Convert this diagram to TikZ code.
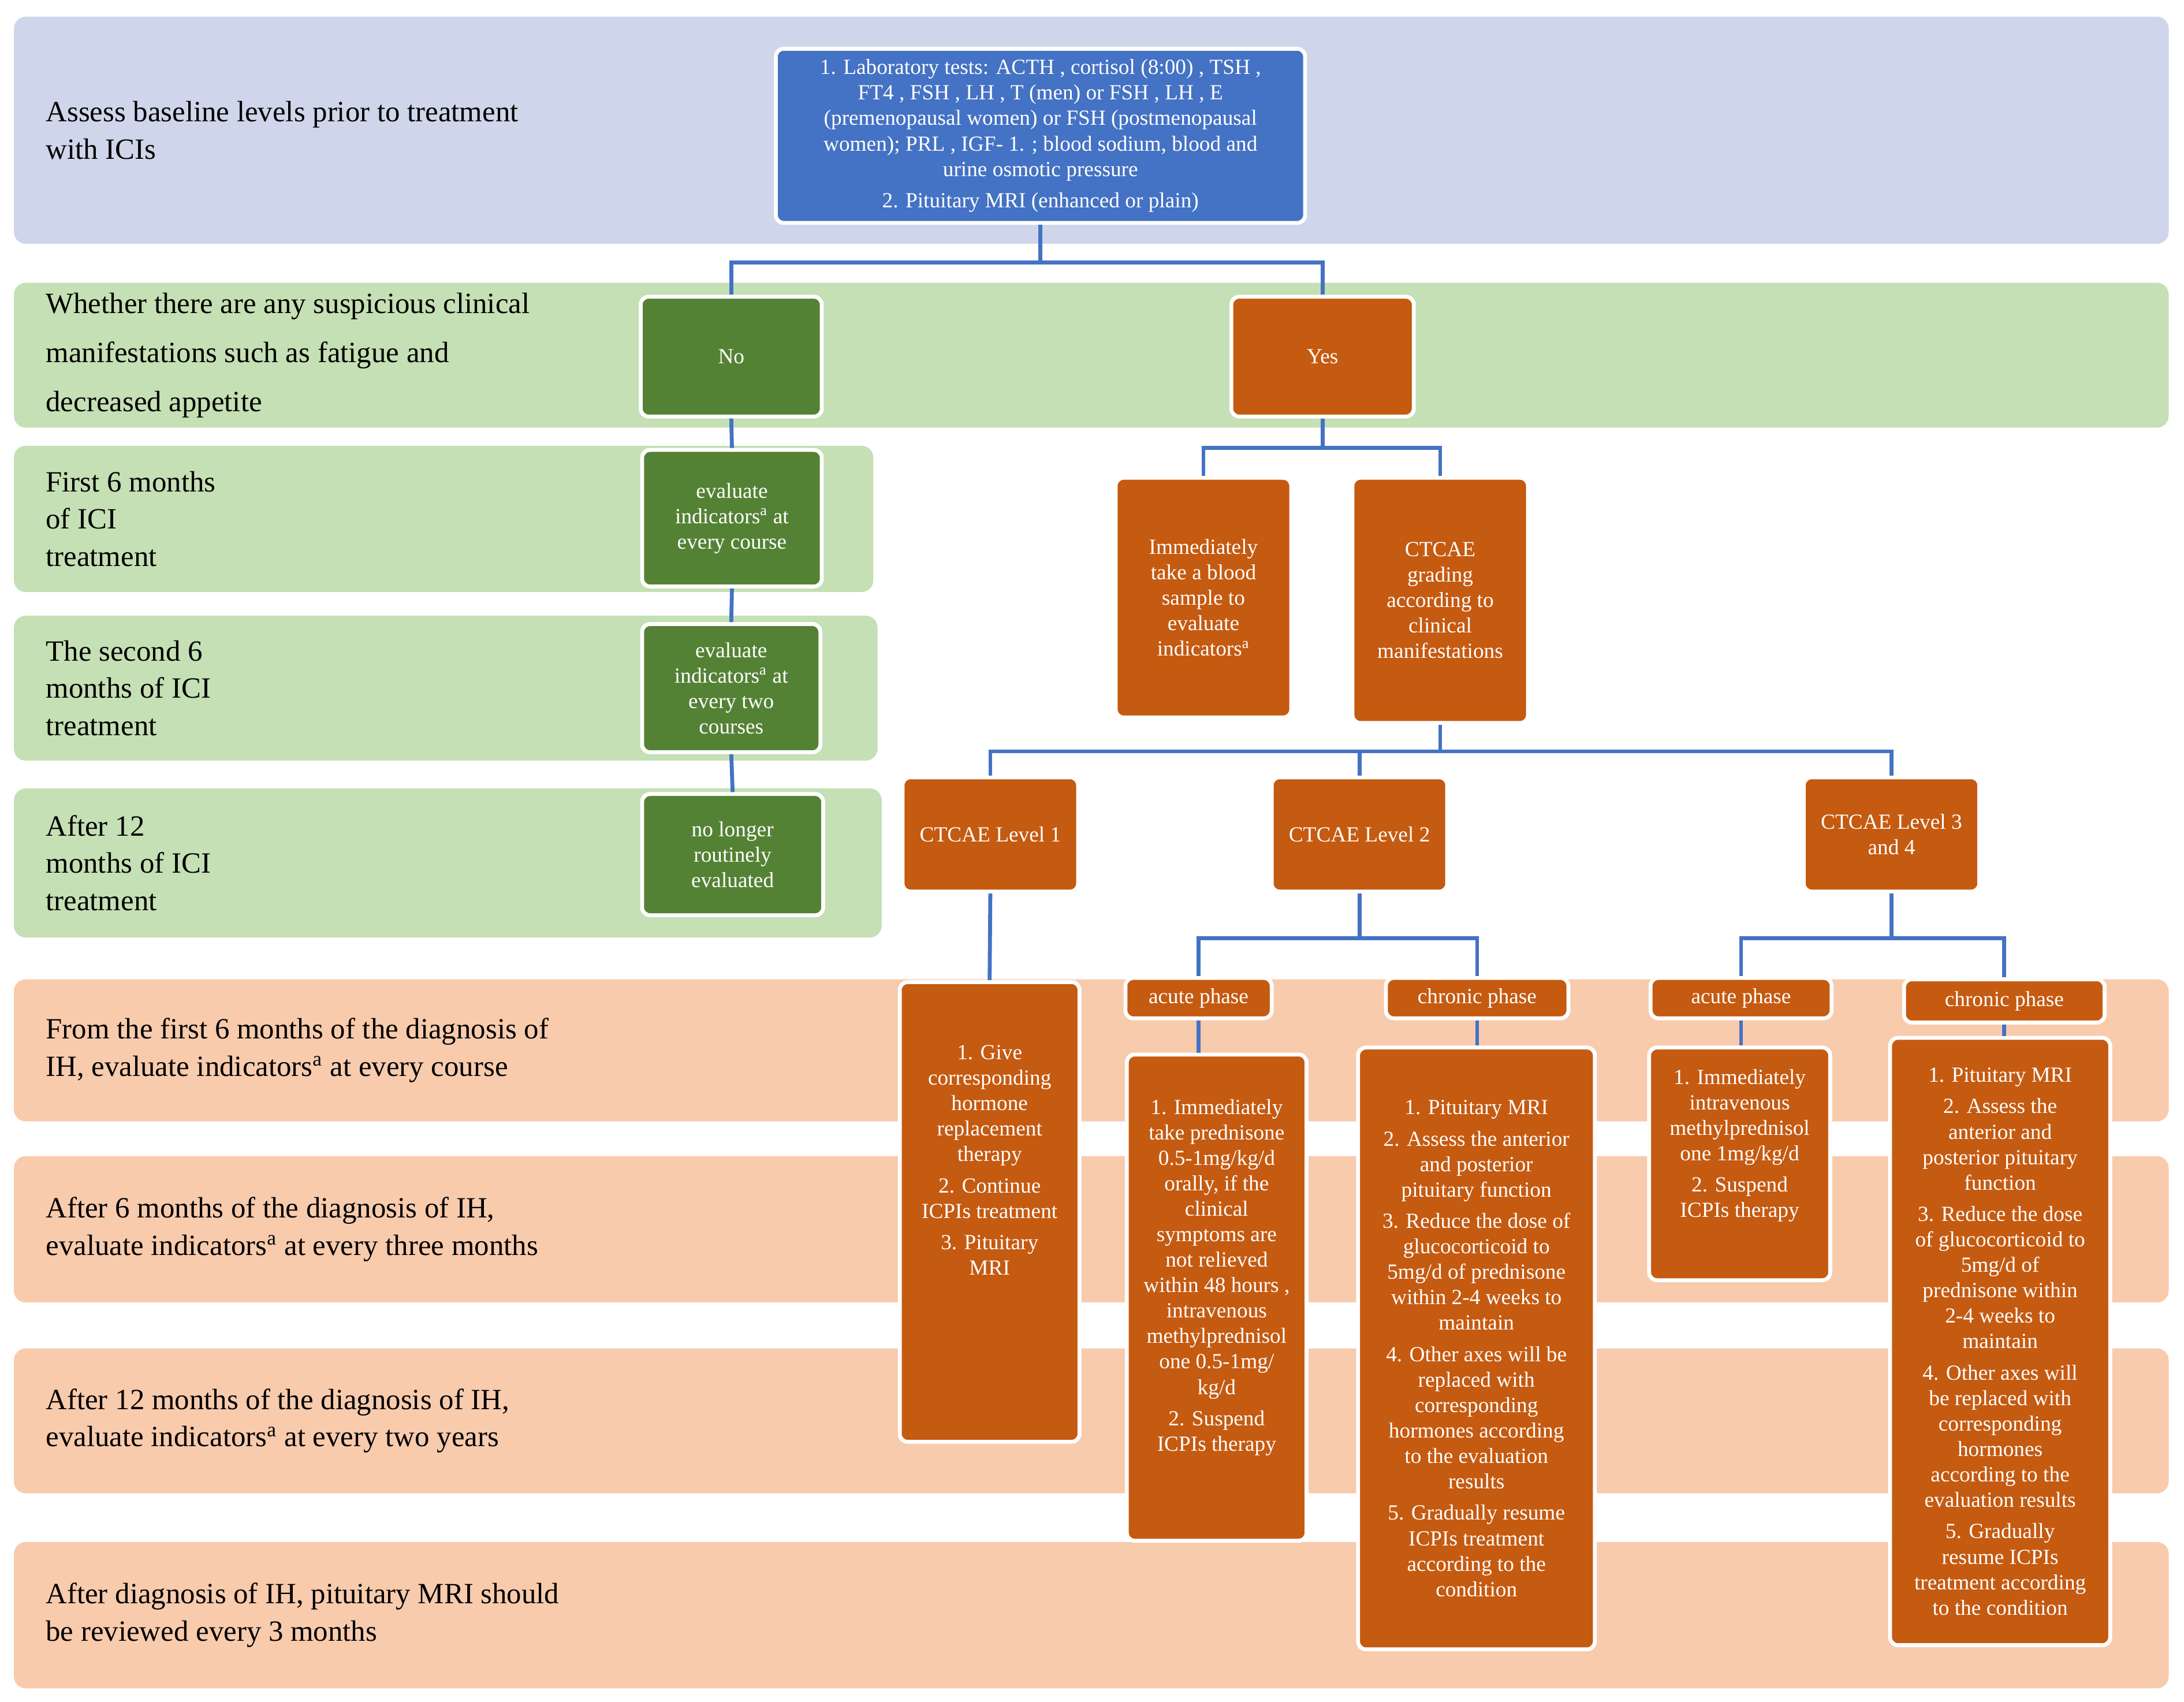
\documentclass[tikz,border=0pt]{standalone}
\usepackage{fontspec}
\setmainfont{Liberation Serif}
\definecolor{lav}{HTML}{CFD5EA}
\definecolor{lgreen}{HTML}{C5E0B4}
\definecolor{peach}{HTML}{F8CBAD}
\definecolor{dgreen}{HTML}{548235}
\definecolor{orng}{HTML}{C55A11}
\definecolor{bblue}{HTML}{4472C4}
\newcommand\bx[7]{\node[#6, minimum width={(#4-#2)*0.025cm}, minimum height={(#5-#3)*0.025cm}] (#1) at ({(#2+#4)/2},{(#3+#5)/2}) {#7};}
\newcommand\band[6]{\fill[#6, rounded corners=6pt] (#2,#3) rectangle (#4,#5); \coordinate (#1) at (28,{(#3+#5)/2});}
\begin{document}
\begin{tikzpicture}[x=0.025cm,y=-0.025cm,
 box/.style={draw=white, line width=2pt, rounded corners=4pt, text=white, align=center, inner sep=1pt, font=\fontsize{11}{13}\selectfont},
 gbox/.style={box, fill=dgreen},
 obox/.style={box, fill=orng},
 bbox/.style={box, fill=bblue},
 lab/.style={anchor=west, align=left, font=\fontsize{15}{19}\selectfont},
 con/.style={draw=bblue, line width=2pt}]
\useasboundingbox (0,0) rectangle (1568,1221.5);
\band{b1}{10}{12}{1557}{175}{lav}
\band{b2}{10}{203}{1557}{307}{lgreen}
\band{b3}{10}{320}{627}{425}{lgreen}
\band{b4}{10}{442}{630}{546}{lgreen}
\band{b5}{10}{566}{633}{673}{lgreen}
\band{b6}{10}{703}{1557}{805}{peach}
\band{b7}{10}{830}{1557}{935}{peach}
\band{b8}{10}{968}{1557}{1072}{peach}
\band{b9}{10}{1107}{1557}{1212}{peach}
\node[lab] (t1) at (b1) {Assess baseline levels prior to treatment\\with ICIs};
\node[lab, font=\fontsize{15}{25}\selectfont] (t2) at (b2) {Whether there are any suspicious clinical\\manifestations such as fatigue and\\decreased appetite};
\node[lab] (t3) at (b3) {First 6 months\\of ICI\\treatment};
\node[lab] (t4) at (b4) {The second 6\\months of ICI\\treatment};
\node[lab] (t5) at (b5) {After 12\\months of ICI\\treatment};
\node[lab] (t6) at (b6) {From the first 6 months of the diagnosis of\\IH, evaluate indicators\textsuperscript{a} at every course};
\node[lab] (t7) at (b7) {After 6 months of the diagnosis of IH,\\evaluate indicators\textsuperscript{a} at every three months};
\node[lab] (t8) at (b8) {After 12 months of the diagnosis of IH,\\evaluate indicators\textsuperscript{a} at every two years};
\node[lab] (t9) at (b9) {After diagnosis of IH, pituitary MRI should\\be reviewed every 3 months};
% boxes
\bx{base}{557}{35}{937}{160}{bbox}{1. Laboratory tests: ACTH , cortisol (8:00) , TSH ,\\FT4 , FSH , LH , T (men) or FSH , LH , E\\(premenopausal women) or FSH (postmenopausal\\women); PRL , IGF- 1. ; blood sodium, blood and\\urine osmotic pressure\\[3pt]2. Pituitary MRI (enhanced or plain)}
\bx{no}{460}{213}{590}{299}{gbox}{No}
\bx{yes}{884}{213}{1015}{299}{obox}{Yes}
\bx{g1}{461}{323}{590}{421}{gbox}{evaluate\\indicators\textsuperscript{a} at\\every course}
\bx{g2}{461}{448}{589}{540}{gbox}{evaluate\\indicators\textsuperscript{a} at\\every two\\courses}
\bx{g3}{461}{570}{591}{657}{gbox}{no longer\\routinely\\evaluated}
\bx{imm}{801}{343}{927}{515}{obox}{Immediately\\take a blood\\sample to\\evaluate\\indicators\textsuperscript{a}}
\bx{grad}{971}{343}{1097}{519}{obox}{CTCAE\\grading\\according to\\clinical\\manifestations}
\bx{l1}{648}{558}{774}{640}{obox}{CTCAE Level 1}
\bx{l2}{913}{558}{1039}{640}{obox}{CTCAE Level 2}
\bx{l3}{1295}{558}{1421}{640}{obox}{CTCAE Level 3\\and 4}
\bx{l1b}{646}{705}{775}{1035}{obox}{1. Give\\corresponding\\hormone\\replacement\\therapy\\[3pt]2. Continue\\ICPIs treatment\\[3pt]3. Pituitary\\MRI\\[40pt]}
\bx{a2}{808}{702}{913}{731}{obox}{acute phase}
\bx{c2}{995}{702}{1126}{731}{obox}{chronic phase}
\bx{a3}{1185}{702}{1315}{731}{obox}{acute phase}
\bx{c3}{1367}{703}{1511}{734}{obox}{chronic phase}
\bx{a2b}{809}{757}{938}{1106}{obox}{1. Immediately\\take prednisone\\0.5-1mg/kg/d\\orally, if the\\clinical\\symptoms are\\not relieved\\within 48 hours ,\\intravenous\\methylprednisol\\one 0.5-1mg/\\kg/d\\[3pt]2. Suspend\\ICPIs therapy\\[10pt]}
\bx{c2b}{975}{752}{1145}{1184}{obox}{1. Pituitary MRI\\[3pt]2. Assess the anterior\\and posterior\\pituitary function\\[3pt]3. Reduce the dose of\\glucocorticoid to\\5mg/d of prednisone\\within 2-4 weeks to\\maintain\\[3pt]4. Other axes will be\\replaced with\\corresponding\\hormones according\\to the evaluation\\results\\[3pt]5. Gradually resume\\ICPIs treatment\\according to the\\condition}
\bx{a3b}{1184}{752}{1314}{919}{obox}{1. Immediately\\intravenous\\methylprednisol\\one 1mg/kg/d\\[3pt]2. Suspend\\ICPIs therapy\\[8pt]}
\bx{c3b}{1357}{745}{1515}{1181}{obox}{1. Pituitary MRI\\[3pt]2. Assess the\\anterior and\\posterior pituitary\\function\\[3pt]3. Reduce the dose\\of glucocorticoid to\\5mg/d of\\prednisone within\\2-4 weeks to\\maintain\\[3pt]4. Other axes will\\be replaced with\\corresponding\\hormones\\according to the\\evaluation results\\[3pt]5. Gradually\\resume ICPIs\\treatment according\\to the condition}
% connectors
\draw[con] (base.south) -- ++(0,27) -| (no.north);
\draw[con] (base.south) -- ++(0,27) -| (yes.north);
\draw[con] (no.south) -- (g1.north);
\draw[con] (g1.south) -- (g2.north);
\draw[con] (g2.south) -- (g3.north);
\draw[con] (yes.south) -- ++(0,21) -| (imm.north);
\draw[con] (yes.south) -- ++(0,21) -| (grad.north);
\draw[con] (grad.south) -- ++(0,19) -| (l1.north);
\draw[con] (grad.south) -- ++(0,19) -| (l2.north);
\draw[con] (grad.south) -- ++(0,19) -| (l3.north);
\draw[con] (l1.south) -- (l1b.north);
\draw[con] (l2.south) -- ++(0,32) -| (a2.north);
\draw[con] (l2.south) -- ++(0,32) -| (c2.north);
\draw[con] (l3.south) -- ++(0,32) -| (a3.north);
\draw[con] (l3.south) -- ++(0,32) -| (c3.north);
\draw[con] (a2.south) -- (a2.south |- a2b.north);
\draw[con] (c2.south) -- (c2.south |- c2b.north);
\draw[con] (a3.south) -- (a3.south |- a3b.north);
\draw[con] (c3.south) -- (c3.south |- c3b.north);
\end{tikzpicture}
\end{document}
